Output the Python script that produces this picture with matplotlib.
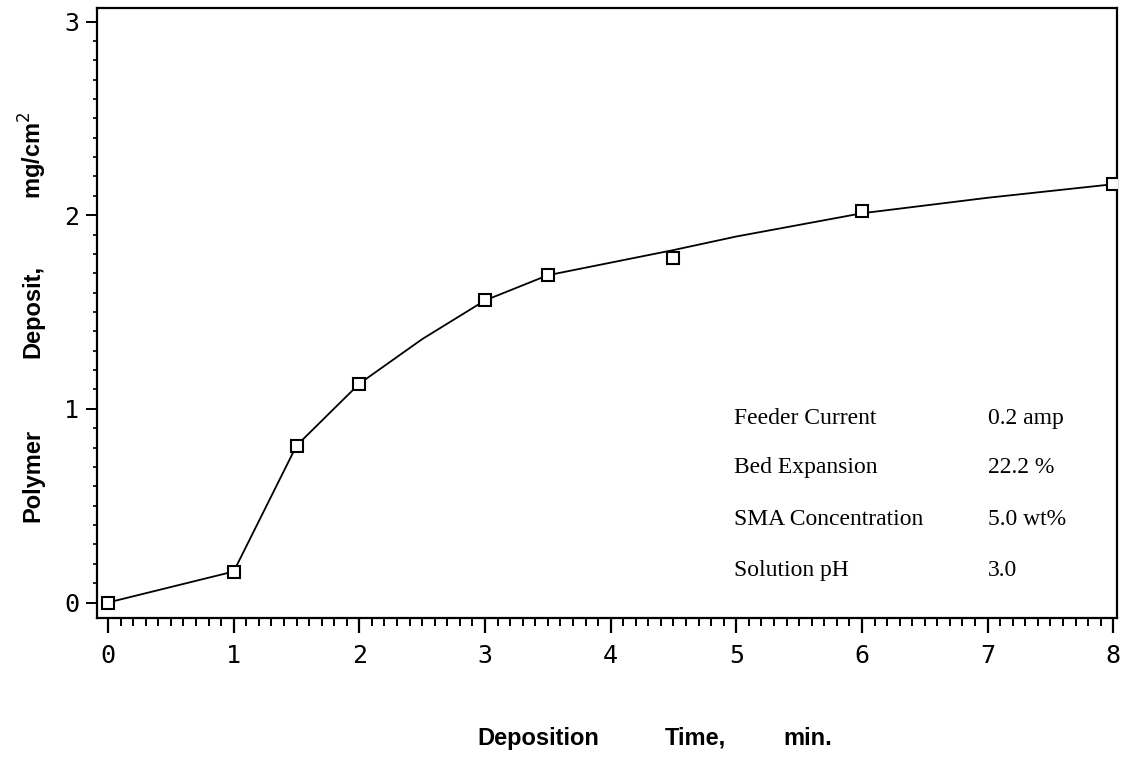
import matplotlib
matplotlib.use("Agg")
import matplotlib.pyplot as plt
from matplotlib.ticker import MultipleLocator

# measured points
time_min = [0, 1, 1.5, 2, 3, 3.5, 4.5, 6, 8]
deposit = [0.0, 0.16, 0.81, 1.13, 1.56, 1.69, 1.78, 2.02, 2.16]

# drawn (smoothed) curve
curve_x = [0, 1, 1.5, 2, 2.5, 3, 3.5, 4.5, 5, 6, 7, 8]
curve_y = [0.0, 0.16, 0.81, 1.13, 1.36, 1.56, 1.69, 1.82, 1.89, 2.01, 2.09, 2.16]

cond_names = ["Feeder Current", "Bed Expansion", "SMA Concentration", "Solution pH"]
cond_values = ["0.2 amp", "22.2 %", "5.0 wt%", "3.0"]
cond_rows = [0.95, 0.695, 0.43, 0.165]

W, H = 1123, 757
fig = plt.figure(figsize=(W / 100, H / 100), dpi=100, facecolor="white")
ax = fig.add_axes([97 / W, 1 - 618 / H, (1117 - 97) / W, (618 - 8) / H])

ax.plot(curve_x, curve_y, color="black", lw=1.3, zorder=2)
ax.plot(time_min, deposit, ls="none", marker="s", ms=8, mfc="white",
        mec="black", mew=1.5, zorder=3)

ax.set_xlim(-0.088, 8.03)
ax.set_ylim(-0.08, 3.07)

ax.xaxis.set_major_locator(MultipleLocator(1))
ax.xaxis.set_minor_locator(MultipleLocator(0.1))
ax.yaxis.set_major_locator(MultipleLocator(1))
ax.yaxis.set_minor_locator(MultipleLocator(0.1))

for s in ax.spines.values():
    s.set_linewidth(1.6)

ax.tick_params(axis="x", which="major", direction="out", length=11, width=1.6, pad=8)
ax.tick_params(axis="x", which="minor", direction="out", length=6, width=1.4)
ax.tick_params(axis="y", which="major", direction="out", length=8, width=1.4, pad=5)
ax.tick_params(axis="y", which="minor", direction="out", length=3, width=1.2)
ax.tick_params(top=False, right=False)

for lab in ax.get_xticklabels() + ax.get_yticklabels():
    lab.set_fontfamily("DejaVu Sans Mono")
    lab.set_fontsize(18)

for name, val, yy in zip(cond_names, cond_values, cond_rows):
    ax.text(4.98, yy, name, family="Liberation Serif", fontsize=17,
            va="center", ha="left")
    ax.text(7.0, yy, val, family="Liberation Serif", fontsize=17,
            va="center", ha="left")

# axis titles, spaced out as in the original
for txt, xc in [("Deposition", 538), ("Time,", 695), ("min.", 808)]:
    fig.text(xc / W, 1 - 745 / H, txt, family="Liberation Sans", weight="bold",
             fontsize=17, ha="center", va="baseline")
for txt, yc in [("Polymer", 475), ("Deposit,", 311), ("mg/cm$^2$", 155)]:
    fig.text(33 / W, 1 - yc / H, txt, family="Liberation Sans", weight="bold",
             fontsize=17, ha="center", va="center", rotation=90)

fig.savefig("out.png", dpi=100, facecolor="white")
